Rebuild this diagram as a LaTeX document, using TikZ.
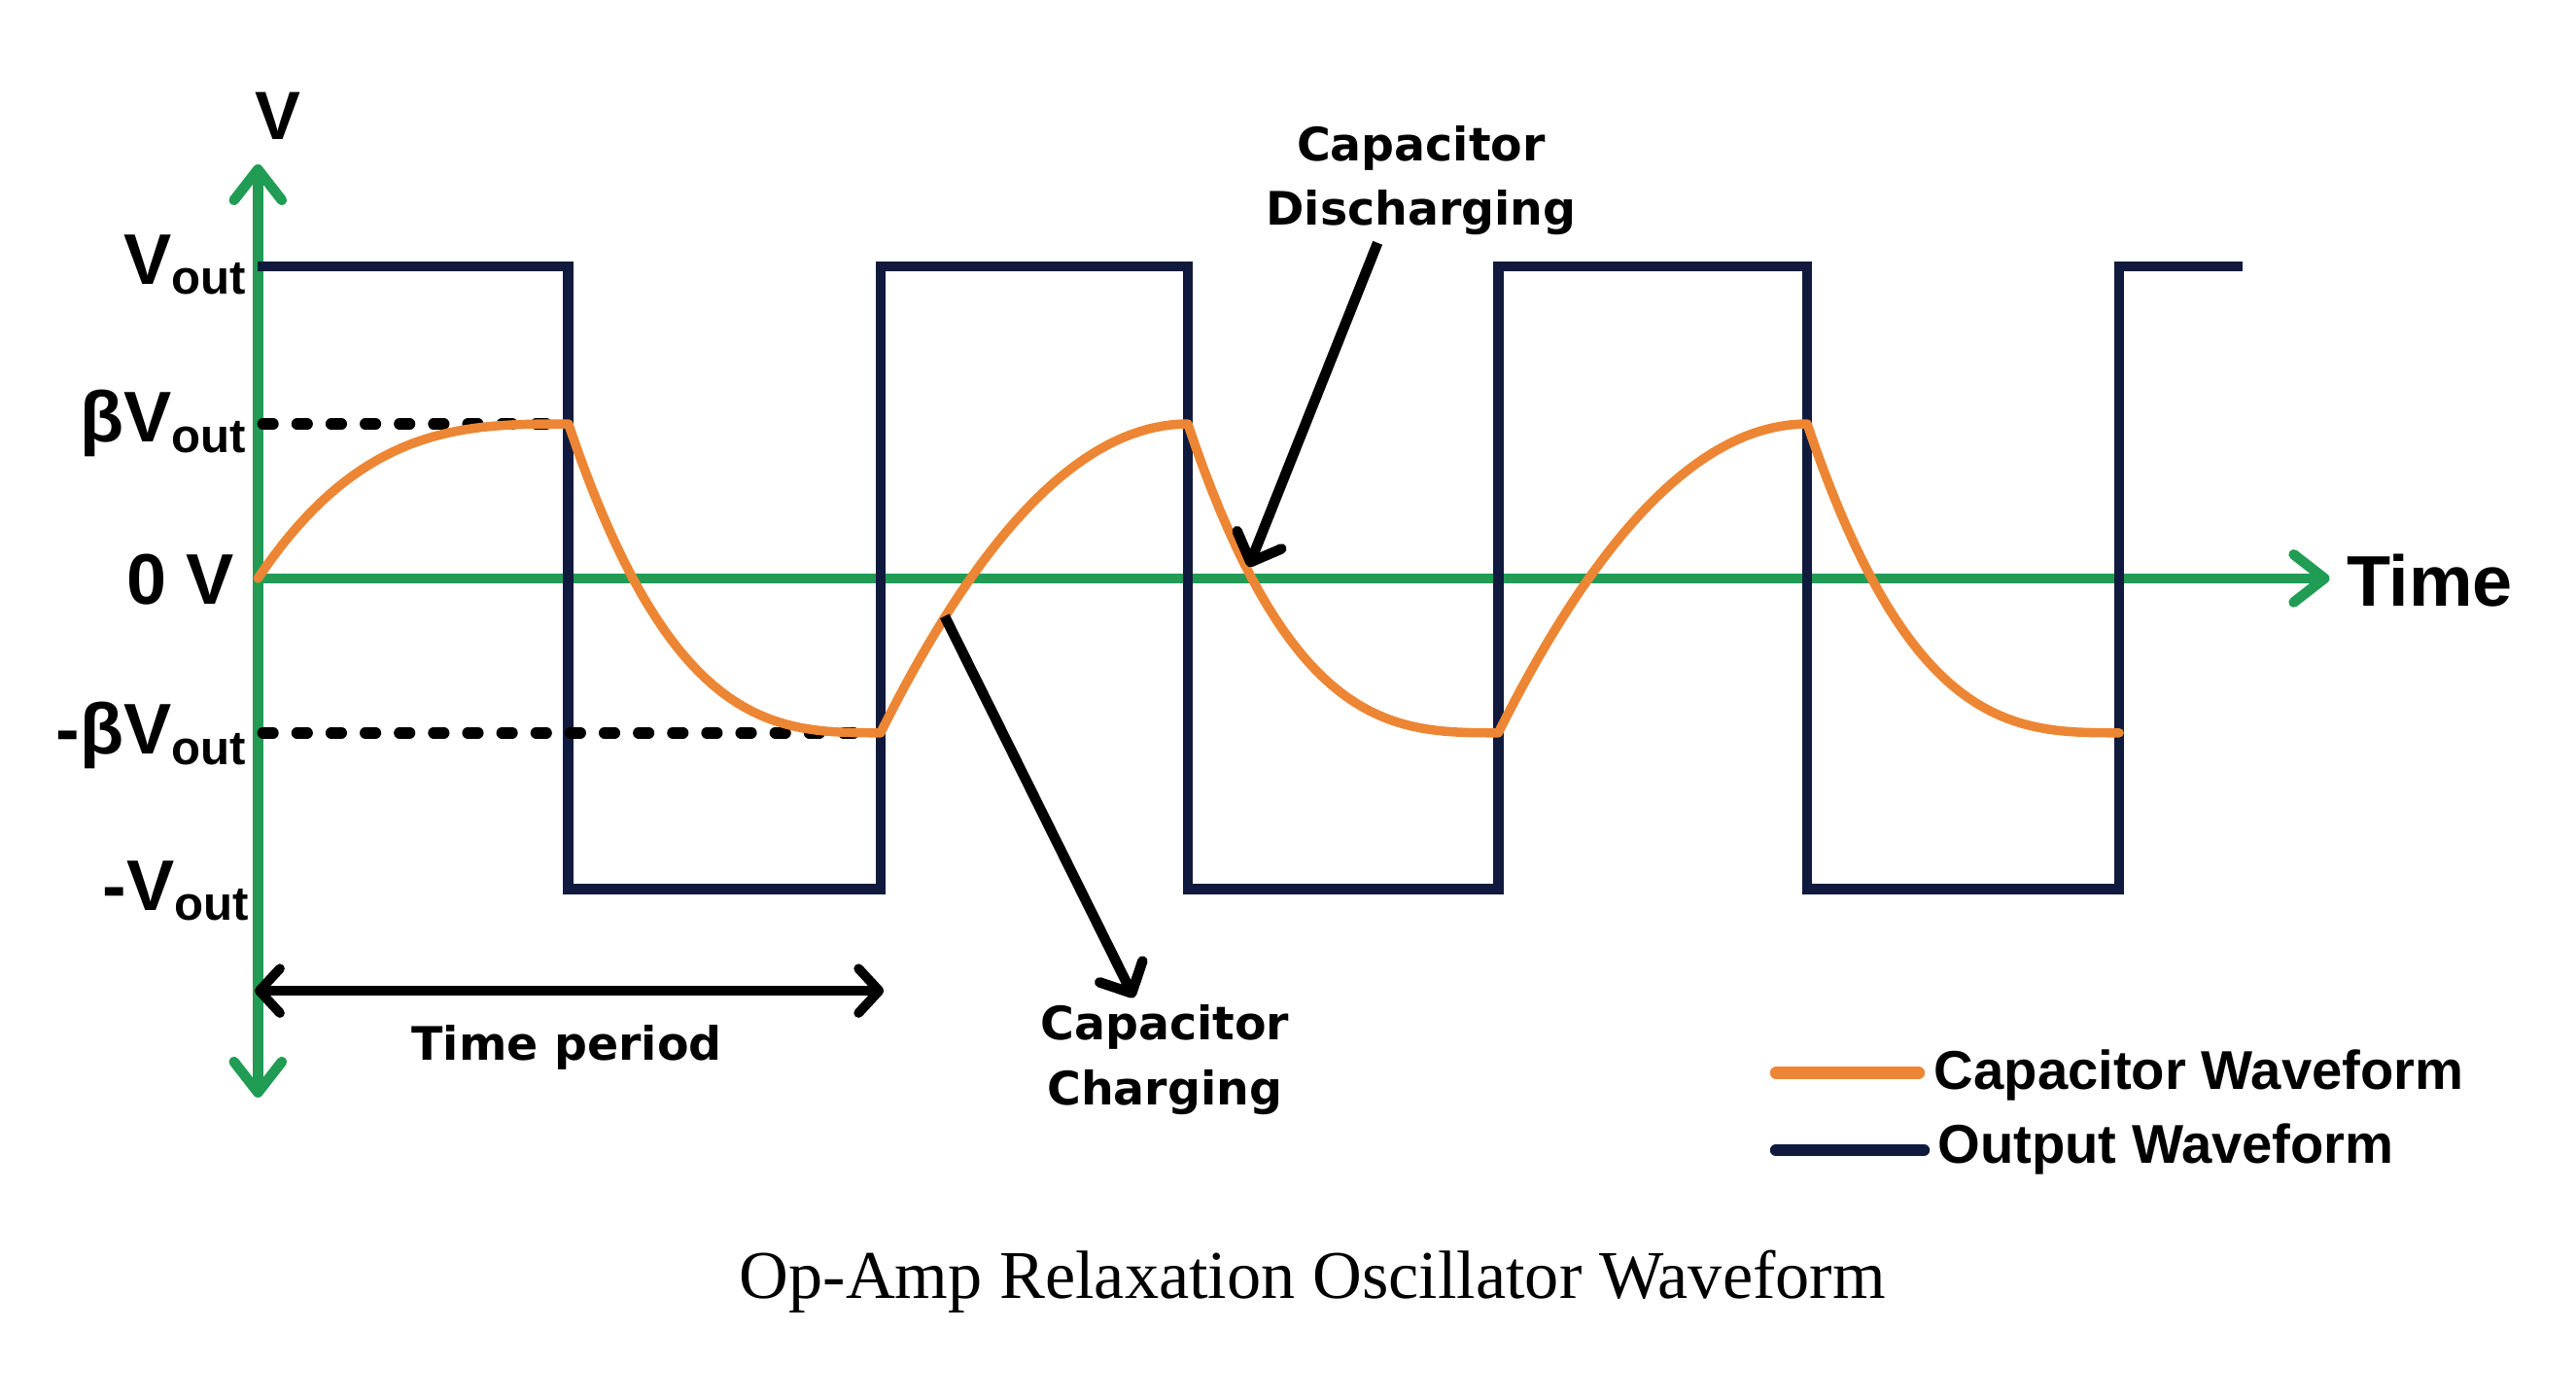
\documentclass[tikz,border=0pt]{standalone}
\usepackage{fontspec}
\setmainfont{Liberation Sans}
\newfontfamily\notefont{DejaVu Sans}
\newfontfamily\titlefont{Liberation Serif}
\usetikzlibrary{arrows.meta}
\definecolor{axisgreen}{RGB}{32,156,84}
\definecolor{outnavy}{RGB}{16,26,62}
\definecolor{caporange}{RGB}{236,134,52}
\newcommand{\vout}{V\raisebox{-3pt}{\fontsize{14}{14}\selectfont out}}
\begin{document}
\begin{tikzpicture}[x=0.0169cm,y=-0.0169cm,
    barb/.tip={Straight Barb[length=9pt,width=14pt,round]},
    axis/.style={axisgreen,line width=3pt,line cap=round},
    outwave/.style={outnavy,line width=3pt,line join=miter},
    capwave/.style={caporange,line width=2.7pt,line join=round,line cap=round},
    level/.style={black,line width=3.3pt,line cap=round,dash pattern=on 3pt off 7pt},
    note/.style={black,line width=3pt,-{Straight Barb[length=7pt,width=14pt,round]}},
    lvl/.style={anchor=base east,inner sep=0pt,font=\fontsize{21}{21}\selectfont\bfseries},
    notetext/.style={align=center,inner sep=2pt,font=\notefont\fontsize{13.5}{18.8}\selectfont\bfseries},
    legtext/.style={anchor=base west,inner sep=0pt,font=\fontsize{16}{16}\selectfont\bfseries}]
  \useasboundingbox (0,0) rectangle (1568,852);
  \draw[axis,barb-barb] (157,668) -- (157,100);
  \draw[axis,-barb] (157,352) -- (1418,352);
  \draw[outwave] (157,162) -- (346,162) -- (346,541) -- (536,541) -- (536,162) -- (723,162) -- (723,541)
    -- (912,541) -- (912,162) -- (1100,162) -- (1100,541) -- (1290,541) -- (1290,162) -- (1365,162);
  \draw[level] (160,258) -- (344,258);
  \draw[level] (160,446) -- (534,446);
  \draw[capwave] plot[domain=0:1,samples=40] ({157+189*\x},{352-94*(1-(1-\x)^3)})
    -- plot[domain=0:1,samples=40] ({346+190*\x},{446-188*(1-\x)^3})
    -- plot[domain=0:1,samples=40] ({536+187*\x},{258+188*(1-\x)^2})
    -- plot[domain=0:1,samples=40] ({723+189*\x},{446-188*(1-\x)^3})
    -- plot[domain=0:1,samples=40] ({912+188*\x},{258+188*(1-\x)^2})
    -- plot[domain=0:1,samples=40] ({1100+190*\x},{446-188*(1-\x)^3});
  \node[anchor=base,inner sep=0pt,font=\fontsize{20}{20}\selectfont\bfseries] (vaxis) at (169,85) {V};
  \node[anchor=base west,inner sep=0pt,font=\fontsize{21}{21}\selectfont\bfseries] (taxis) at (1428,369) {Time};
  \node[lvl] (vhigh) at (150,173) {\vout};
  \node[lvl] (bhigh) at (150,269) {β\vout};
  \node[lvl] (zero) at (143,368) {0 V};
  \node[lvl] (blow) at (150,459) {-β\vout};
  \node[lvl] (vlow) at (152,554) {-\vout};
  \node[notetext] (dis) at (865,110) {Capacitor\\Discharging};
  \node[notetext] (chg) at (709,645) {Capacitor\\Charging};
  \coordinate (dtip) at (760,345);
  \coordinate (cstart) at (575,375);
  \draw[note] (dis.-125) -- (dtip);
  \draw[note] (cstart) -- (chg);
  \coordinate (tpleft) at (155,603);
  \coordinate (tpright) at (538,603);
  \draw[black,line width=2.8pt,{Straight Barb[length=6pt,width=13pt,round]}-{Straight Barb[length=6pt,width=13pt,round]}] (tpleft) -- (tpright);
  \node[anchor=base,inner sep=0pt,font=\notefont\fontsize{13.5}{13.5}\selectfont\bfseries] (tp) at (345,645) {Time period};
  \draw[caporange,line width=3.5pt,line cap=round] (1081,653) -- (1168,653);
  \draw[outnavy,line width=3.5pt,line cap=round] (1081,700) -- (1171,700);
  \node[legtext] (legcap) at (1177,663) {Capacitor Waveform};
  \node[legtext] (legout) at (1179,708) {Output Waveform};
  \node[anchor=base,inner sep=0pt,font=\titlefont\fontsize{20}{20}\selectfont] (title) at (799,790) {Op-Amp Relaxation Oscillator Waveform};
\end{tikzpicture}
\end{document}
